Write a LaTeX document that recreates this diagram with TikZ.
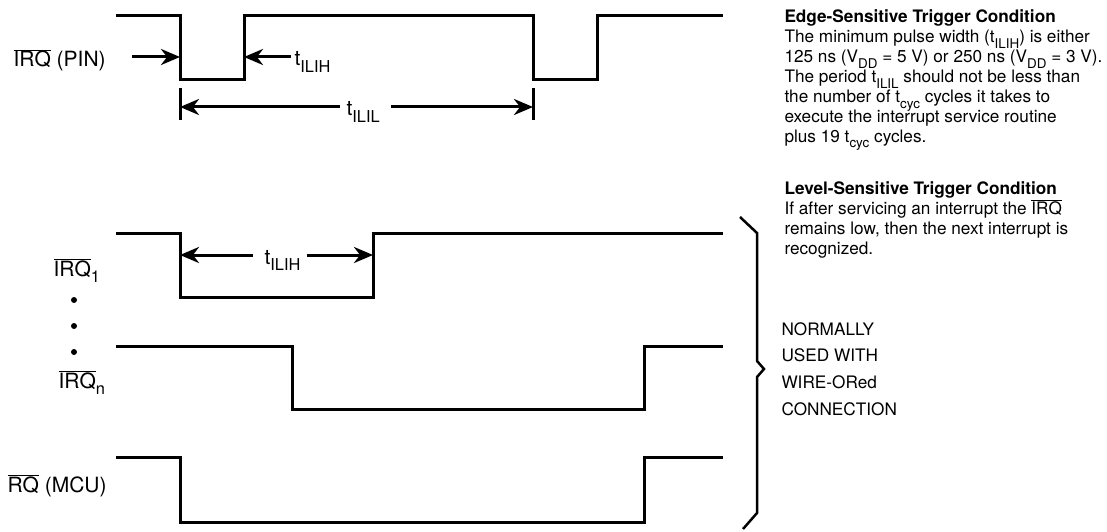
\documentclass[tikz,border=0pt]{standalone}
\usepackage{fontspec}
\setmainfont{TeX Gyre Heros}
\usepackage{graphicx}
\usetikzlibrary{positioning}
\usetikzlibrary{arrows.meta}
\newcommand{\lsub}[1]{\smash{\raisebox{-0.33em}{\scalebox{0.78}{#1}}}}
\newcommand{\ovl}[1]{$\overline{\mbox{#1}}$}

\begin{document}
\begin{tikzpicture}[x=1pt,y=-1pt,line width=3pt,node distance=17pt,
  >={Stealth[length=19pt,width=16pt,inset=6pt]},
  lbl/.style={inner sep=0pt,anchor=base west,font=\fontsize{21}{24}\selectfont},
  note/.style={inner sep=0pt,anchor=north west,align=left,font=\fontsize{17.2}{19.9}\selectfont},
  dot/.style={circle,fill,inner sep=0pt,minimum size=6pt}]
  \useasboundingbox (0,0) rectangle (1107,532);
  % signals
  \draw[line join=miter] (116,16) -- (180,16) -- (180,80) -- (244,80) -- (244,16) -- (533,16) -- (533,80) -- (597,80) -- (597,16) -- (723,16);
  \draw[line join=miter] (116,233) -- (180,233) -- (180,297) -- (373,297) -- (373,233) -- (723,233);
  \draw[line join=miter] (116,346) -- (292,346) -- (292,409) -- (644,409) -- (644,346) -- (723,346);
  \draw[line join=miter] (116,457) -- (180,457) -- (180,522) -- (644,522) -- (644,457) -- (723,457);
  \draw[line width=2.5pt] (740,217) -- (757,233) -- (757,361) -- (764,369) -- (757,377) -- (757,513) -- (743,529);
  % labels
  \node[lbl] (pin) at (12,67) {\ovl{IRQ} (PIN)};
  \node[lbl] (irqa) at (52,276) {\ovl{IRQ}\lsub{1}};
  \node[dot] (d1) at (74,300) {};
  \node[dot,below=of d1] (d2) {};
  \node[dot,below=of d2] (d3) {};
  \node[lbl] (irqn) at (57,388) {\ovl{IRQ}\lsub{n}};
  \node[lbl] (mcu) at (6,492) {\ovl{RQ} (MCU)};
  \node[lbl] (tlih) at (293,66) {t\lsub{ILIH}};
  \node[lbl] (tlil) at (345,116) {t\lsub{ILIL}};
  \node[lbl] (tlihb) at (263,264) {t\lsub{ILIH}};
  % timing marks
  \coordinate (fa) at (180,57);
  \coordinate (ra) at (244,57);
  \coordinate (ta) at (180,107);
  \coordinate (tb) at (533,107);
  \coordinate (fb) at (180,255);
  \coordinate (rb) at (373,255);
  \draw[->] (132,57) -- (fa);
  \draw[->] ([xshift=-2pt]tlih.west |- ra) -- (ra);
  \draw (180,88) -- (180,120);
  \draw (533,88) -- (533,120);
  \draw[->] ([xshift=-5pt]tlil.west |- ta) -- (ta);
  \draw[->] ([xshift=10pt]tlil.east |- tb) -- (tb);
  \draw[->] ([xshift=-10pt]tlihb.west |- fb) -- (fb);
  \draw[->] ([xshift=5pt]tlihb.east |- rb) -- (rb);
  % notes
  \node[note] (edge) at (783,8.5) {\textbf{Edge-Sensitive Trigger Condition}\\
    The minimum pulse width (t\lsub{ILIH}) is either\\
    125 ns (V\lsub{DD} = 5 V) or 250 ns (V\lsub{DD} = 3 V).\\
    The period t\lsub{ILIL} should not be less than\\
    the number of t\lsub{cyc} cycles it takes to\\
    execute the interrupt service routine\\
    plus 19 t\lsub{cyc} cycles.};
  \node[note] (level) at (783,180.5) {\textbf{Level-Sensitive Trigger Condition}\\
    If after servicing an interrupt the \ovl{IRQ}\\
    remains low, then the next interrupt is\\
    recognized.};
  \node[note,font=\fontsize{17.2}{26.7}\selectfont] (wired) at (780,320.7) {NORMALLY\\ USED WITH\\ WIRE-ORed\\ CONNECTION};
\end{tikzpicture}
\end{document}
